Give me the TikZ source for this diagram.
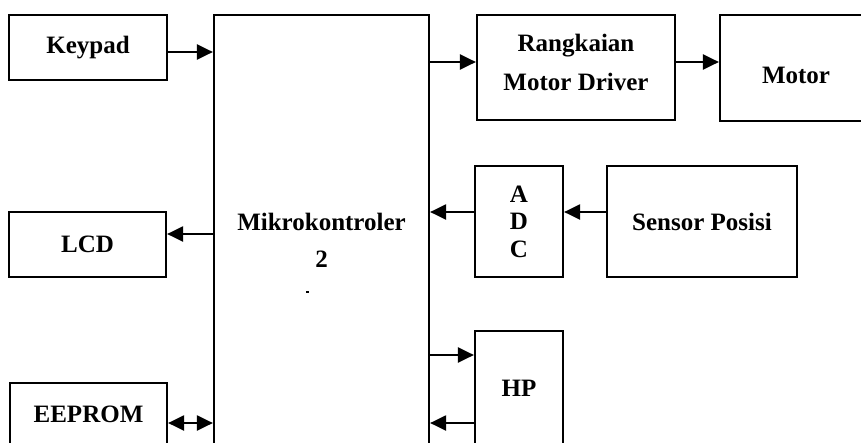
\documentclass[tikz,border=0pt]{standalone}
\usepackage{fontspec}
\setmainfont{Liberation Serif}
\usetikzlibrary{arrows.meta}
\begin{document}
\begin{tikzpicture}[x=1pt,y=-1pt,
  box/.style={draw,line width=2.2pt,rectangle,inner sep=0pt,align=center,
    font=\fontsize{25}{28}\selectfont\bfseries},
  arr/.style={line width=2.2pt,-{Triangle[length=16pt,width=15pt]}},
  barr/.style={line width=2.2pt,{Triangle[length=16pt,width=15pt]}-{Triangle[length=16pt,width=15pt]}}]
\useasboundingbox (0,0) rectangle (861,442);
\clip (0,0) rectangle (861,442);
\fill[white] (0,0) rectangle (861,442);
% nodes
\node[box,minimum width=158pt,minimum height=65pt] (keypad) at (88,47.5) {Keypad};
\node[box,minimum width=215pt,minimum height=450pt,font=\fontsize{25}{37}\selectfont\bfseries] (mikro) at (321.5,240) {Mikrokontroler\\2};
\node[box,minimum width=198pt,minimum height=105pt,font=\fontsize{25}{39}\selectfont\bfseries] (driver) at (576,67.5) {Rangkaian\\Motor Driver\rule[-10pt]{0pt}{10pt}};
\node[box,minimum width=152pt,minimum height=106pt] (motor) at (796,68) {\rule{0pt}{31pt}Motor};
\node[box,minimum width=88pt,minimum height=111pt,font=\fontsize{25}{27.5}\selectfont\bfseries] (adc) at (519,221.5) {A\\D\\C};
\node[box,minimum width=190pt,minimum height=111pt] (sensor) at (702,221.5) {Sensor Posisi};
\node[box,minimum width=157pt,minimum height=65pt] (lcd) at (87.5,244.5) {LCD};
\node[box,minimum width=157pt,minimum height=62pt] (eeprom) at (88.5,414) {EEPROM};
\node[box,minimum width=88pt,minimum height=114pt] (hp) at (519,388) {HP};
% connectors
\draw[arr] ([yshift=-4.5pt]keypad.east) -- ([yshift=-4.5pt]keypad.east -| mikro.west);
\draw[arr] ([yshift=5.5pt]driver.west -| mikro.east) -- ([yshift=5.5pt]driver.west);
\draw[arr] ([yshift=5.5pt]driver.east) -- ([yshift=5.5pt]driver.east -| motor.west);
\draw[arr] ([yshift=9.5pt]sensor.west) -- ([yshift=9.5pt]adc.east);
\draw[arr] ([yshift=9.5pt]adc.west) -- ([yshift=9.5pt]adc.west -| mikro.east);
\draw[arr] ([yshift=10.5pt]lcd.east -| mikro.west) -- ([yshift=10.5pt]lcd.east);
\draw[barr] ([yshift=-9pt]eeprom.east) -- ([yshift=-9pt]eeprom.east -| mikro.west);
\draw[arr] ([yshift=33pt]hp.west -| mikro.east) -- ([yshift=33pt]hp.west);
\draw[arr] ([yshift=-35pt]hp.west) -- ([yshift=-35pt]hp.west -| mikro.east);
% small stray mark
\fill (306,291) rectangle (309,293);
\end{tikzpicture}
\end{document}
